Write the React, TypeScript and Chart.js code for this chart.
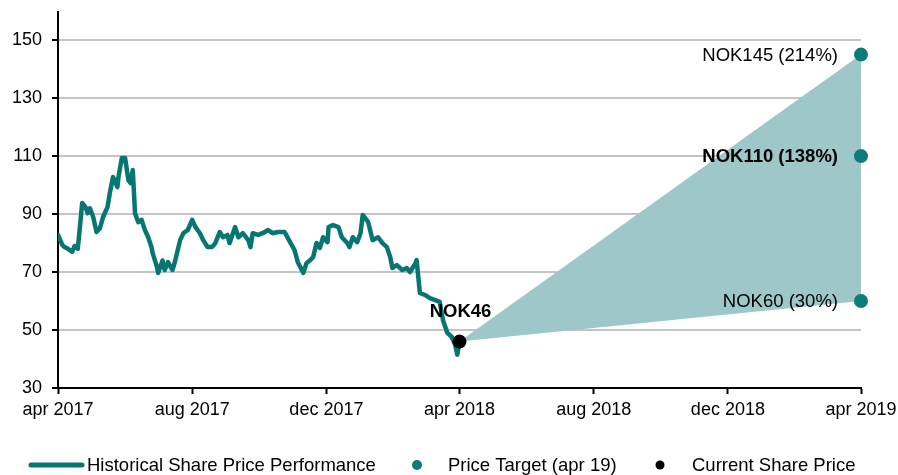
import { useEffect, useRef } from "react";
import { Chart, registerables } from "chart.js";

Chart.register(...registerables);

const FONT = "'Liberation Sans', Arial, sans-serif";

// x axis: days since 1 Apr 2017
const xTickDays = [0, 122, 244, 365, 487, 609, 730];
const xTickLabels = ["apr 2017", "aug 2017", "dec 2017", "apr 2018", "aug 2018", "dec 2018", "apr 2019"];
const yTicks = [30, 50, 70, 90, 110, 130, 150];

const histDays = [0, 4, 6, 9, 13, 15, 18, 22, 25, 27, 29, 32, 35, 38, 41, 45, 47, 50, 54, 55, 58, 61, 64, 66, 68, 70, 73, 76, 79, 82, 85, 86, 90, 91, 95, 97, 100, 104, 106, 111, 114, 118, 122, 125, 129, 132, 136, 140, 143, 147, 150, 154, 156, 161, 164, 168, 173, 175, 177, 182, 186, 191, 195, 200, 206, 211, 215, 218, 223, 226, 229, 232, 235, 238, 241, 245, 246, 250, 255, 258, 263, 265, 268, 272, 275, 277, 282, 286, 291, 295, 299, 302, 304, 308, 313, 317, 320, 325, 326, 329, 334, 338, 343, 347, 350, 354, 358, 361, 363, 365];
const histPrices = [82.8, 79.3, 78.6, 78, 77, 79, 78, 93.8, 92.4, 90.3, 92, 89, 83.8, 85, 89, 92.4, 97, 102.8, 99.3, 102.8, 109.3, 109.3, 101.7, 100.7, 105.2, 90.3, 87.2, 88, 84.5, 82, 78.6, 76.6, 71.7, 69.7, 74, 70.7, 73.4, 70.7, 73.1, 81, 83.4, 84.5, 88, 85.5, 83.4, 81, 78.6, 78.6, 80, 83.8, 82, 82.8, 80, 85.5, 82, 83.4, 81, 78.6, 83.4, 82.8, 83.4, 84.5, 83.4, 83.8, 83.8, 80.3, 77.6, 73.4, 69.7, 73.1, 74, 75.2, 80, 78.3, 82, 80.3, 85.5, 86.2, 85.5, 82, 80, 78.6, 82, 80.3, 83.4, 89.7, 87.2, 81, 82, 80, 78.6, 75.2, 71.4, 72.4, 70.7, 71.4, 70, 73.1, 74.1, 62.8, 62, 61, 60.3, 59.7, 53.4, 49, 47.6, 45, 41.5, 46];

const currentDay = 365;
const currentPrice = 46;
const currentLabel = "NOK46";

const targetDay = 730;
const targetPrices = [145, 110, 60];
const targetLabels = ["NOK145 (214%)", "NOK110 (138%)", "NOK60 (30%)"];
const targetBold = [false, true, false];

const legendLabels = ["Historical Share Price Performance", "Price Target (apr 19)", "Current Share Price"];

const TEAL = "#077672";
const TEAL_DOT = "#0b7c77";
const FAN = "#9dc7c8";

const labelPlugin = {
  id: "labels",
  afterDatasetsDraw(chart: any) {
    const { ctx, scales } = chart;
    const x = scales.x;
    const y = scales.y;
    ctx.save();
    ctx.fillStyle = "#000";
    ctx.textBaseline = "middle";
    ctx.textAlign = "right";
    targetPrices.forEach((p, i) => {
      ctx.font = `${targetBold[i] ? "bold " : ""}18.5px ${FONT}`;
      ctx.fillText(targetLabels[i], x.getPixelForValue(targetDay) - 23, y.getPixelForValue(p) + 1);
    });
    ctx.textAlign = "center";
    ctx.font = `bold 18.5px ${FONT}`;
    ctx.fillText(currentLabel, x.getPixelForValue(currentDay) + 1, y.getPixelForValue(currentPrice) - 30);
    ctx.restore();
  },
  afterDraw(chart: any) {
    const { ctx } = chart;
    const ly = 465;
    ctx.save();
    ctx.font = `18.5px ${FONT}`;
    ctx.fillStyle = "#000";
    ctx.textBaseline = "middle";
    ctx.textAlign = "left";
    // item 1: line
    ctx.strokeStyle = TEAL;
    ctx.lineWidth = 5;
    ctx.lineCap = "round";
    ctx.beginPath();
    ctx.moveTo(31, ly);
    ctx.lineTo(82, ly);
    ctx.stroke();
    ctx.fillText(legendLabels[0], 87, ly + 1);
    // item 2: teal dot
    ctx.fillStyle = TEAL_DOT;
    ctx.beginPath();
    ctx.arc(417, ly, 5, 0, Math.PI * 2);
    ctx.fill();
    ctx.fillStyle = "#000";
    ctx.fillText(legendLabels[1], 448, ly + 1);
    // item 3: black dot
    ctx.beginPath();
    ctx.arc(660, ly, 4.5, 0, Math.PI * 2);
    ctx.fill();
    ctx.fillText(legendLabels[2], 692, ly + 1);
    ctx.restore();
  },
};

export default function App() {
  const canvasRef = useRef<HTMLCanvasElement | null>(null);

  useEffect(() => {
    document.body.style.margin = "0";
    document.body.style.overflow = "hidden";
    const canvas = canvasRef.current;
    if (!canvas) return;

    const chart = new Chart(canvas, {
      type: "line",
      data: {
        datasets: [
          {
            label: "current",
            data: [{ x: currentDay, y: currentPrice }],
            showLine: false,
            pointRadius: 7,
            pointBackgroundColor: "#000",
            pointBorderWidth: 0,
            borderColor: "#000",
            order: 0,
            clip: false as any,
          },
          {
            label: "targets",
            data: targetPrices.map((p) => ({ x: targetDay, y: p })),
            showLine: false,
            pointRadius: 7,
            pointBackgroundColor: TEAL_DOT,
            pointBorderWidth: 0,
            borderColor: TEAL_DOT,
            order: 0,
            clip: false as any,
          },
          {
            label: "history",
            data: histDays.map((d, i) => ({ x: d, y: histPrices[i] })),
            borderColor: TEAL,
            borderWidth: 4.5,
            borderJoinStyle: "round",
            borderCapStyle: "round",
            pointRadius: 0,
            tension: 0,
            fill: false,
            order: 1,
          },
          {
            label: "fanUpper",
            data: [
              { x: currentDay, y: currentPrice },
              { x: targetDay, y: targetPrices[0] },
            ],
            borderWidth: 0,
            borderColor: FAN,
            backgroundColor: FAN,
            pointRadius: 0,
            fill: "+1",
            order: 2,
          },
          {
            label: "fanLower",
            data: [
              { x: currentDay, y: currentPrice },
              { x: targetDay, y: targetPrices[2] },
            ],
            borderWidth: 0,
            borderColor: FAN,
            pointRadius: 0,
            fill: false,
            order: 2,
          },
        ],
      },
      options: {
        animation: false,
        responsive: true,
        maintainAspectRatio: false,
        layout: { padding: { top: 12, right: 37, left: 0, bottom: 0 } },
        plugins: {
          legend: { display: false },
          tooltip: { enabled: false },
        },
        scales: {
          x: {
            type: "linear",
            min: 0,
            max: 730,
            afterBuildTicks: (s: any) => {
              s.ticks = xTickDays.map((v) => ({ value: v }));
            },
            afterFit: (s: any) => {
              s.height = 87;
              s.paddingLeft = 0;
              s.paddingRight = 0;
            },
            ticks: {
              callback: (_v: any, i: number) => xTickLabels[i],
              color: "#000",
              font: { family: FONT, size: 18 },
              padding: 5,
              maxRotation: 0,
              autoSkip: false,
            },
            grid: {
              drawOnChartArea: false,
              drawTicks: true,
              tickLength: 6,
              tickColor: "#000",
              tickWidth: 2,
            },
            border: { color: "#000", width: 2 },
          },
          y: {
            min: 30,
            max: 159.7,
            afterBuildTicks: (s: any) => {
              s.ticks = yTicks.map((v) => ({ value: v }));
            },
            afterFit: (s: any) => {
              s.width = 58;
              s.paddingTop = 0;
              s.paddingBottom = 0;
            },
            ticks: {
              color: "#000",
              font: { family: FONT, size: 18 },
              padding: 10,
            },
            grid: {
              color: "#c4c4c4",
              lineWidth: 2,
              tickColor: "#000",
              tickLength: 6,
              tickWidth: 2,
            },
            border: { color: "#000", width: 2 },
          },
        },
      },
      plugins: [labelPlugin],
    });

    return () => {
      chart.destroy();
    };
  }, []);

  return (
    <div style={{ position: "relative", width: "898px", height: "475px" }}>
      <canvas ref={canvasRef} />
    </div>
  );
}
